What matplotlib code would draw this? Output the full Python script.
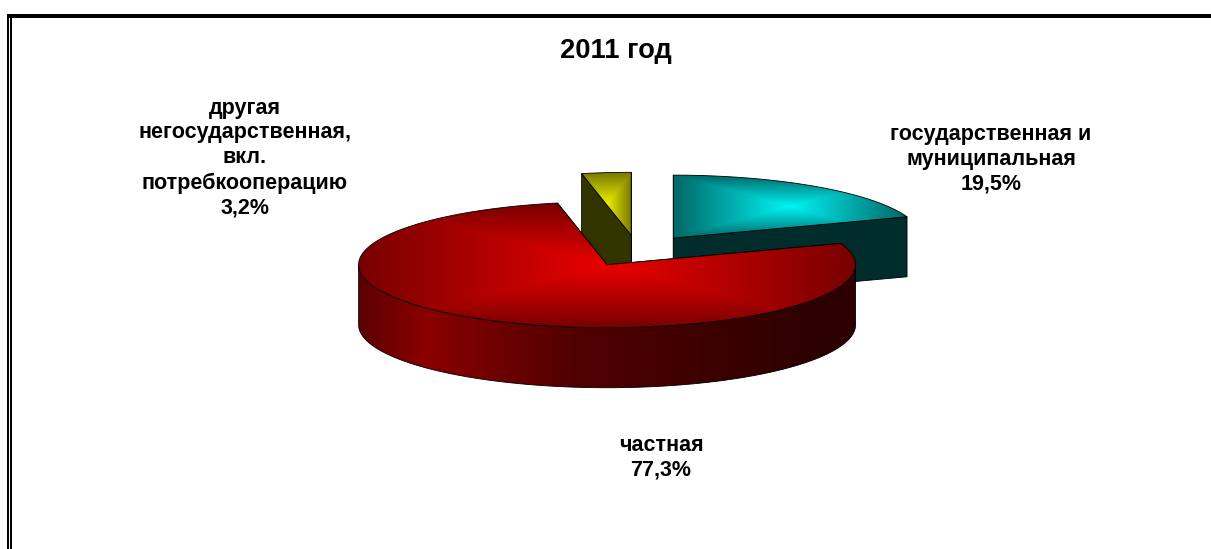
import numpy as np
import matplotlib
matplotlib.use('Agg')
import matplotlib.pyplot as plt
from matplotlib.patches import Polygon, Rectangle

plt.rcParams['font.family'] = ['Liberation Sans', 'DejaVu Sans']

# Data (shares, %), clockwise from 12 o'clock
labels = ['государственная и\nмуниципальная', 'частная',
          'другая\nнегосударственная,\nвкл.\nпотребкооперацию']
value_text = ['19,5%', '77,3%', '3,2%']
values = [19.5, 77.3, 3.2]
title = '2011 год'

# Colours: top face edge / centre, flat cut face
edge_colors = ['#006666', '#780000', '#777700']
center_colors = ['#00f4f4', '#ea0000', '#eeee00']
cut_colors = ['#002c2c', '#300000', '#333300']

# Pie geometry in pixels
cx, cy = 637.5, 251
rx, ry = 248.5, 63
depth = 60
explode = 0.25

fig = plt.figure(figsize=(12.11, 5.49), dpi=100)
ax = fig.add_axes([0, 0, 1, 1])
ax.set_xlim(0, 1211)
ax.set_ylim(549, 0)
ax.axis('off')

# Frame
ax.add_patch(Rectangle((7, 14), 1204, 4, color='black', lw=0))
ax.add_patch(Rectangle((7, 14), 2, 535, color='black', lw=0))
ax.add_patch(Rectangle((10, 14), 2, 535, color='black', lw=0))


def rgb(c):
    return np.array(matplotlib.colors.to_rgb(c))


def top_gradient(poly, inner, outer):
    # rectangular path gradient over the bounding box of the face
    x0, y0 = poly.min(axis=0)
    x1, y1 = poly.max(axis=0)
    u = np.linspace(-1, 1, 400)
    v = np.linspace(-1, 1, 200)
    uu, vv = np.meshgrid(u, v)
    t = np.maximum(np.abs(uu), np.abs(vv))[..., None]
    img = rgb(inner) * (1 - t) + rgb(outer) * t
    im = ax.imshow(img, extent=(x0, x1, y1, y0), aspect='auto', zorder=zo,
                   interpolation='bilinear')
    clip = Polygon(poly, closed=True, transform=ax.transData)
    im.set_clip_path(clip)
    ax.add_patch(Polygon(poly, closed=True, fill=False, edgecolor='black', lw=0.6, zorder=zo + 0.1))


def side_gradient(poly, xs, cols):
    # vertical bands along the outer wall
    x0, y0 = poly.min(axis=0)
    x1, y1 = poly.max(axis=0)
    grid = np.linspace(x0, x1, 600)
    arr = np.array([rgb(c) for c in cols])
    img = np.stack([np.interp(grid, xs, arr[:, i]) for i in range(3)], axis=1)[None, :, :]
    im = ax.imshow(img, extent=(x0, x1, y1, y0), aspect='auto', zorder=zo)
    im.set_clip_path(Polygon(poly, closed=True, transform=ax.transData))
    ax.add_patch(Polygon(poly, closed=True, fill=False, edgecolor='black', lw=0.6, zorder=zo + 0.1))


side_x = [359, 425, 570, 700, 830, 856]
side_cols = ['#5c0000', '#8a0000', '#520000', '#3e0000', '#2c0000', '#300000']

# slice angles, clockwise from 90 degrees
ends = 90 - np.cumsum(values) * 3.6
starts = np.concatenate([[90], ends[:-1]])
mids = np.radians((starts + ends) / 2)

# painted back to front: teal, yellow, red
order = [0, 2, 1]
for k, i in enumerate(order):
    zo = 2 + k
    ax_x = cx + explode * rx * np.cos(mids[i])
    ax_y = cy - explode * ry * np.sin(mids[i])
    th = np.radians(np.linspace(starts[i], ends[i], 300))
    rim = np.column_stack([ax_x + rx * np.cos(th), ax_y - ry * np.sin(th)])
    apex = np.array([ax_x, ax_y])
    top = np.vstack([apex, rim])

    # flat cut faces
    for p in (rim[0], rim[-1]):
        face = np.array([apex, p, p + [0, depth], apex + [0, depth]])
        ax.add_patch(Polygon(face, closed=True, facecolor=cut_colors[i],
                             edgecolor='black', lw=0.6, zorder=zo))

    # outer wall on the front half
    if i == 1:
        th2 = np.radians(np.linspace(180, 360, 300))
        front = np.column_stack([ax_x + rx * np.cos(th2), ax_y - ry * np.sin(th2)])
        wall = np.vstack([front, (front + [0, depth])[::-1]])
        side_gradient(wall, side_x, side_cols)

    zo += 0.2
    top_gradient(top, center_colors[i], edge_colors[i])

ax.set_xlim(0, 1211)
ax.set_ylim(549, 0)

# Texts
txt = dict(ha='center', va='center', fontweight='bold', color='black', zorder=10)
ax.text(615.5, 50.5, title, fontsize=19.7, **txt)
ax.text(991, 159, labels[0] + '\n' + value_text[0], fontsize=15.5, linespacing=1.24, **txt)
ax.text(661, 457.5, labels[1] + '\n' + value_text[1], fontsize=15.5, linespacing=1.24, **txt)
ax.text(245, 158, labels[2] + '\n' + value_text[2], fontsize=15.5, linespacing=1.24, **txt)

plt.savefig('out.png', dpi=100)
